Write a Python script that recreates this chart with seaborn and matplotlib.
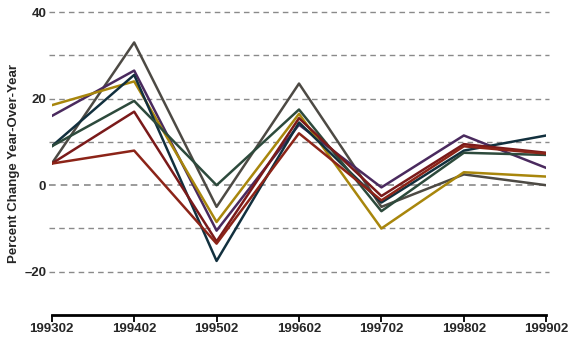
import pandas as pd
import matplotlib.pyplot as plt
import seaborn as sns

periods = ["199302", "199402", "199502", "199602", "199702", "199802", "199902"]

gray = [5, 33, -5, 23.5, -5, 2.5, 0]
purple = [16, 26.5, -10.5, 14, -0.5, 11.5, 4]
gold = [18.5, 24, -8.5, 16.5, -10, 3, 2]
navy = [9, 25.5, -17.5, 14.5, -4, 8, 11.5]
green = [9, 19.5, 0, 17.5, -6, 7.5, 7]
darkred = [5, 17, -13, 15.5, -2.5, 9.5, 7.5]
red = [5, 8, -13.5, 12, -3.5, 9, 7.3]

series = {"gray": gray, "purple": purple, "gold": gold, "navy": navy,
          "green": green, "darkred": darkred, "red": red}
colors = {"gray": "#4d4a44", "purple": "#4a2a5e", "gold": "#a8860c", "navy": "#12303e",
          "green": "#2d4a3c", "darkred": "#7a1a1a", "red": "#8c2418"}

rows = []
for name, vals in series.items():
    for i, v in enumerate(vals):
        rows.append({"series": name, "x": i, "value": v})
df = pd.DataFrame(rows)

sns.set_style("white")
plt.rcParams['font.family'] = ['Liberation Sans', 'DejaVu Sans']

fig = plt.figure(figsize=(5.75, 3.38), dpi=100)
ax = fig.add_axes([0.09, 0.068, 0.86, 0.896])

# dashed grid
for g in [40, 30, 20, 10, 0, -10, -20]:
    ax.axhline(g, color="#8a8a8a", lw=1.2 if g == 0 else 1.0, ls=(0, (4, 3)), zorder=0,
               xmin=-0.005, xmax=1.005, clip_on=False)

sns.lineplot(data=df, x="x", y="value", hue="series", palette=colors, lw=1.8,
             legend=False, ax=ax)

ax.set_xlim(0, 6)
ax.set_ylim(-30, 40)
ax.set_xticks(range(7))
ax.set_xticklabels(periods, fontsize=9.5, fontweight="bold")
ax.set_yticks([40, 20, 0, -20])
ax.set_yticklabels(["40", "20", "0", "\u201320"], fontsize=9.5, fontweight="bold")
ax.set_xlabel("")
ax.set_ylabel("Percent Change Year-Over-Year", fontsize=9.5, fontweight="bold", labelpad=3)

for s in ["left", "right", "top"]:
    ax.spines[s].set_visible(False)
ax.spines["bottom"].set_linewidth(2)
ax.spines["bottom"].set_color("black")
ax.tick_params(axis="x", bottom=True, length=5, width=1.3, color="black", pad=1, direction="out")
ax.tick_params(axis="y", length=0, pad=4)

fig.savefig("out.png", dpi=100)
